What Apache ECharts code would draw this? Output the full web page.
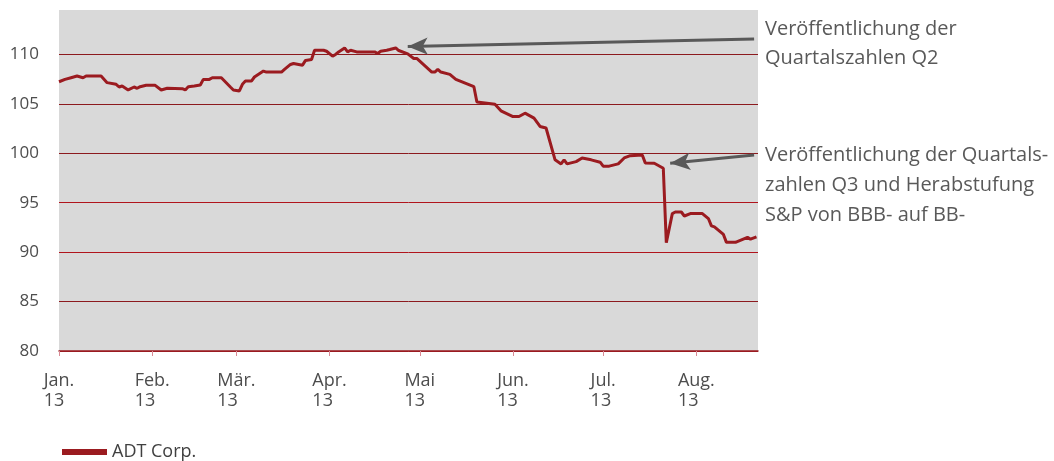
<!DOCTYPE html>
<html lang="de">
	<head>
		<meta charset="utf-8">
		<title>ADT Corp.</title>
		<style>
			html, body{
				margin: 0;
				padding: 0;
				background: #fff;
			}
			#chart{
				width: 1054px;
				height: 461px;
			}
		</style>
	</head>
	<body>
		<div id="chart"></div>
		<script src="https://cdn.jsdelivr.net/npm/echarts@6/dist/echarts.min.js"></script>
		<script type="text/javascript">
			// Kursverlauf ADT Corp. 2013
			var dates = [
				'2013-01-01','2013-01-03','2013-01-05','2013-01-07','2013-01-09','2013-01-10','2013-01-15','2013-01-17',
				'2013-01-20','2013-01-21','2013-01-22','2013-01-24','2013-01-26','2013-01-27','2013-01-28','2013-01-30',
				'2013-02-02','2013-02-04','2013-02-06','2013-02-11','2013-02-12','2013-02-13','2013-02-15','2013-02-17',
				'2013-02-18','2013-02-20','2013-02-21','2013-02-24','2013-02-27','2013-02-28','2013-03-02','2013-03-03',
				'2013-03-04','2013-03-06','2013-03-07','2013-03-10','2013-03-11','2013-03-16','2013-03-17','2013-03-19',
				'2013-03-20','2013-03-23','2013-03-24','2013-03-26','2013-03-27','2013-03-30','2013-03-31','2013-04-02',
				'2013-04-03','2013-04-04','2013-04-06','2013-04-07','2013-04-08','2013-04-10','2013-04-16','2013-04-17',
				'2013-04-18','2013-04-20','2013-04-21','2013-04-23','2013-04-24','2013-04-27','2013-04-29','2013-04-30',
				'2013-05-02','2013-05-05','2013-05-06','2013-05-07','2013-05-08','2013-05-11','2013-05-13','2013-05-19',
				'2013-05-20','2013-05-26','2013-05-28','2013-06-01','2013-06-03','2013-06-05','2013-06-08','2013-06-10',
				'2013-06-12','2013-06-15','2013-06-17','2013-06-18','2013-06-19','2013-06-22','2013-06-24','2013-06-27',
				'2013-06-30','2013-07-01','2013-07-03','2013-07-06','2013-07-08','2013-07-10','2013-07-14','2013-07-15',
				'2013-07-18','2013-07-21','2013-07-22','2013-07-24','2013-07-25','2013-07-27','2013-07-28','2013-07-30',
				'2013-08-03','2013-08-05','2013-08-06','2013-08-07','2013-08-10','2013-08-11','2013-08-14','2013-08-18',
				'2013-08-19','2013-08-21'
			];
			var adtValues = [
				107.24,107.48,107.65,107.82,107.65,107.82,107.82,107.15,
				106.98,106.71,106.81,106.41,106.71,106.58,106.74,106.88,
				106.88,106.41,106.58,106.54,106.41,106.74,106.81,106.91,
				107.48,107.48,107.65,107.65,106.71,106.41,106.31,106.98,
				107.31,107.31,107.72,108.32,108.22,108.22,108.49,108.99,
				109.09,108.92,109.40,109.50,110.43,110.43,110.33,109.83,
				110.00,110.26,110.66,110.26,110.43,110.26,110.26,110.10,
				110.33,110.43,110.50,110.66,110.40,110.06,109.60,109.60,
				109.05,108.22,108.22,108.49,108.22,107.99,107.48,106.74,
				105.20,104.97,104.30,103.72,103.72,104.06,103.56,102.72,
				102.56,99.34,98.93,99.34,98.93,99.16,99.53,99.34,
				99.10,98.70,98.70,98.93,99.53,99.76,99.83,99.03,
				98.99,98.49,90.95,93.90,94.06,94.06,93.66,93.90,
				93.90,93.40,92.66,92.56,91.79,90.99,90.99,91.49,
				91.32,91.55
			];
			var monthLabels = ['Jan.','Feb.','Mär.','Apr.','Mai','Jun.','Jul.','Aug.'];
			var yearLabel = '13';
			var yTicks = {min: 80, max: 114.5, step: 5};
			var xRange = {min: '2013-01-01', max: '2013-08-21 12:00'};

			// Pfeile zu den Kommentaren: [Start, Spitze]
			var arrowQ2 = [['2013-08-20 05:00', 111.57], ['2013-04-27', 110.8]];
			var arrowQ3 = [['2013-08-20 05:00', 99.83], ['2013-07-23 07:00', 98.99]];
			var noteQ2 = 'Veröffentlichung der\nQuartalszahlen Q2';
			var noteQ3 = 'Veröffentlichung der Quartals-\nzahlen Q3 und Herabstufung\nS&P von BBB- auf BB-';

			var seriesData = [];
			for (var i = 0; i < dates.length; i++) {
				seriesData.push([dates[i], adtValues[i]]);
			}

			var textFont = '"Open Sans", Lato, sans-serif';
			var myChart = echarts.init(document.getElementById('chart'), null, {renderer: 'canvas'});

			var option = {
				animation: false,
				backgroundColor: '#ffffff',
				textStyle: {fontFamily: textFont},
				grid: {
					left: 59,
					right: 296,
					top: 10,
					bottom: 110,
					show: true,
					backgroundColor: '#d9d9d9',
					borderWidth: 0
				},
				legend: {
					left: 57,
					top: 438,
					itemWidth: 45,
					itemHeight: 6,
					itemGap: 8,
					icon: 'rect',
					textStyle: {color: '#404040', fontSize: 18, fontFamily: textFont},
					data: ['ADT Corp.']
				},
				xAxis: {
					type: 'time',
					min: xRange.min,
					max: xRange.max,
					minInterval: 28 * 24 * 3600 * 1000,
					axisLine: {show: true, lineStyle: {color: '#9b1b20', width: 1.5}},
					axisTick: {show: true, length: 5, lineStyle: {color: '#d98a94'}},
					splitLine: {show: false},
					axisLabel: {
						color: '#4d4d4d',
						fontSize: 18,
						lineHeight: 20,
						margin: 20,
						hideOverlap: false,
						showMinLabel: true,
						// Block zentriert, Zeilen linksbündig
						rich: {
							m: {align: 'left', fontSize: 18, lineHeight: 20, color: '#4d4d4d', fontFamily: textFont}
						},
						formatter: function (val) {
							var d = new Date(val);
							if (d.getDate() !== 1) {
								return '';
							}
							return '{m|' + monthLabels[d.getMonth()] + '}\n{m|' + yearLabel + '}';
						}
					}
				},
				yAxis: {
					type: 'value',
					min: yTicks.min,
					max: yTicks.max,
					interval: yTicks.step,
					axisLine: {show: false},
					axisTick: {show: false},
					axisLabel: {
						color: '#4d4d4d',
						fontSize: 17,
						margin: 20,
						showMaxLabel: false
					},
					splitLine: {
						show: true,
						lineStyle: {
							width: 1,
							// letzte Linie (Maximum) bleibt unsichtbar
							color: ['#9b1b20', '#8c1a1e', '#b0141c', '#b0141c', '#8c1a1e', '#8c1a1e', '#8c1a1e', 'rgba(0,0,0,0)']
						}
					}
				},
				graphic: [
					{
						type: 'text',
						left: 765,
						top: 15,
						style: {text: noteQ2, fill: '#595959', fontSize: 20, lineHeight: 29, fontFamily: textFont}
					},
					{
						type: 'text',
						left: 765,
						top: 140,
						style: {text: noteQ3, fill: '#595959', fontSize: 20, lineHeight: 30, fontFamily: textFont}
					}
				],
				series: [
					{
						name: 'ADT Corp.',
						type: 'line',
						data: seriesData,
						showSymbol: false,
						symbol: 'none',
						lineStyle: {color: '#9b1b20', width: 3},
						itemStyle: {color: '#9b1b20'},
						markLine: {
							silent: true,
							symbol: ['none', 'arrow'],
							symbolSize: [13, 20],
							label: {show: false},
							emphasis: {disabled: true},
							lineStyle: {color: '#595959', width: 3, type: 'solid'},
							data: [
								[{coord: arrowQ2[0]}, {coord: arrowQ2[1]}],
								[{coord: arrowQ3[0]}, {coord: arrowQ3[1]}]
							]
						}
					}
				]
			};
			myChart.setOption(option);
		</script>
	</body>
</html>
